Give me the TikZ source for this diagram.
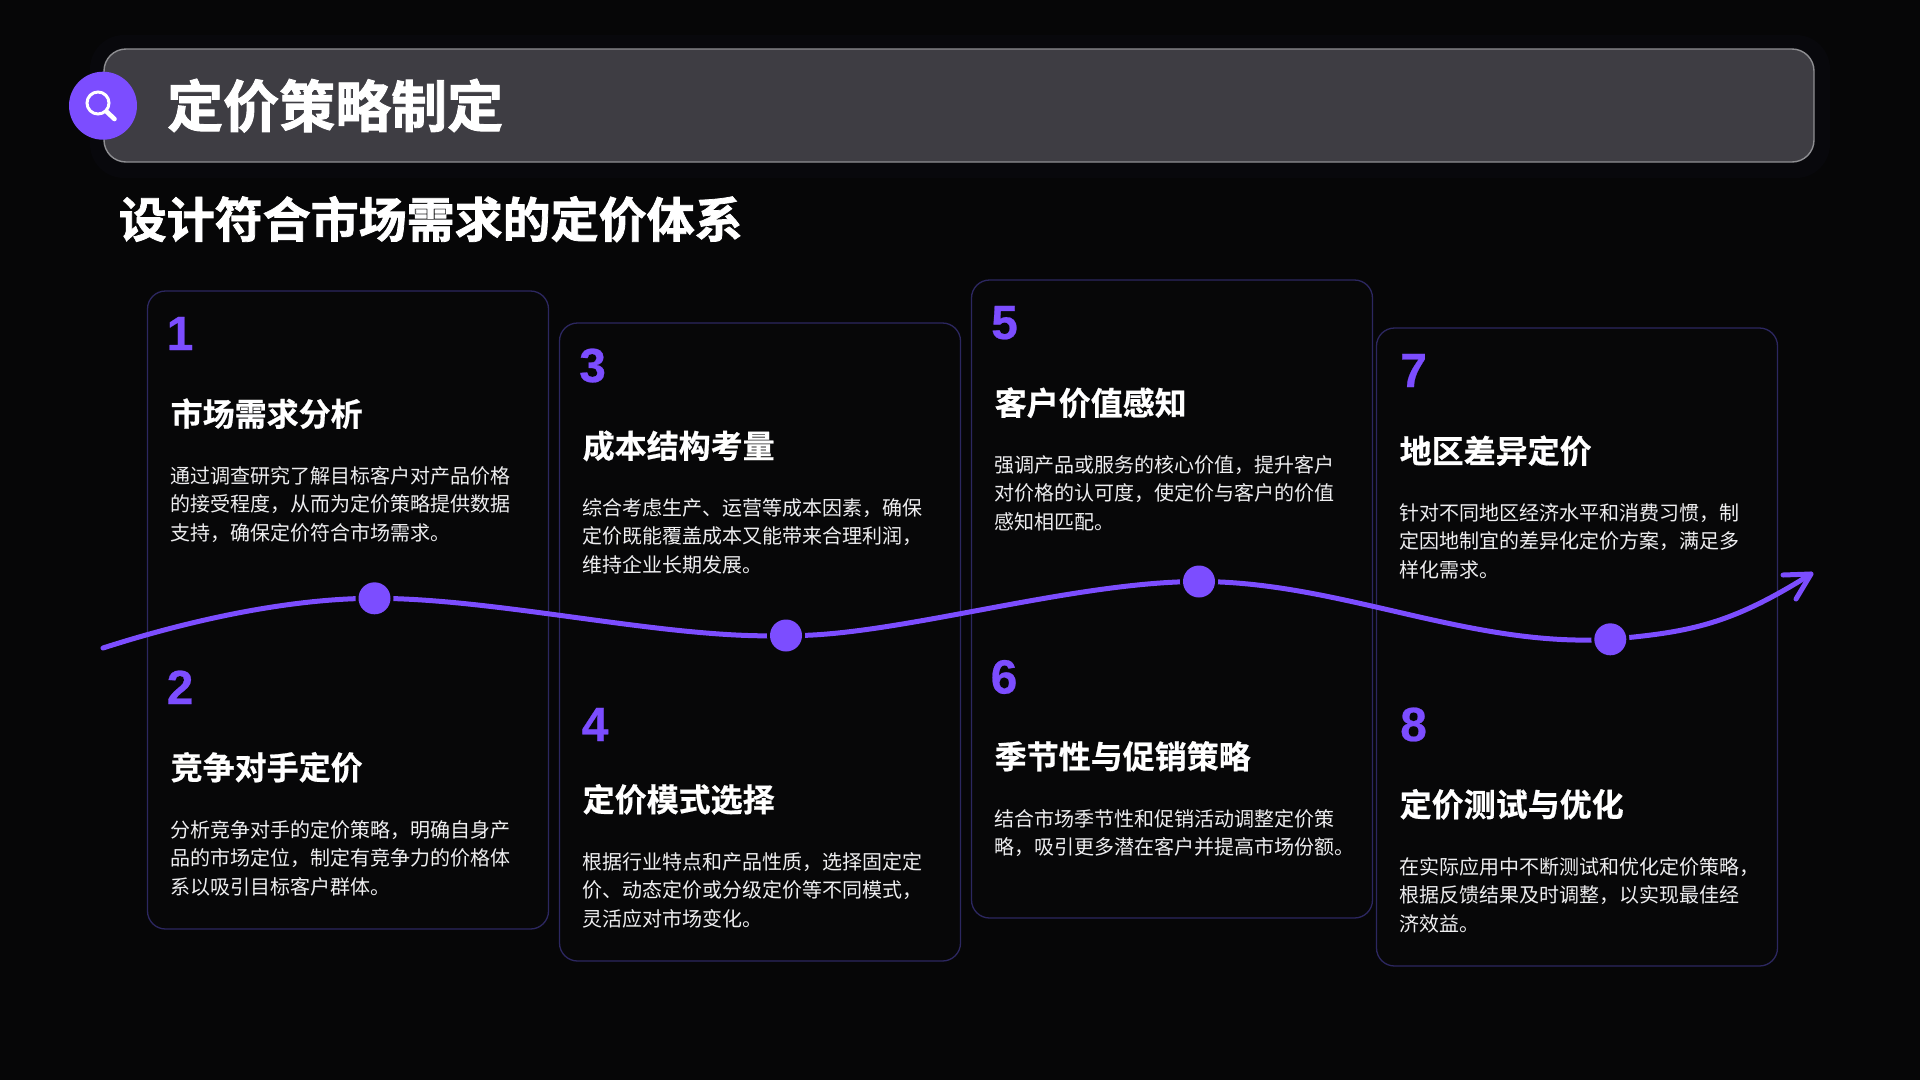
\documentclass[tikz,border=0pt]{standalone}
\usepackage{fontspec}
\setmainfont{Noto Sans CJK SC}[BoldFont={Noto Sans CJK SC Bold}]
\newfontfamily\heavy{Noto Sans CJK SC Bold}[FakeBold=1.6]
\newfontfamily\semi{Noto Sans CJK SC Bold}[FakeBold=0.6]
\newfontfamily\numfont{Liberation Sans Bold}[FakeBold=0.5]
\definecolor{bgc}{HTML}{060607}
\definecolor{cardfill}{HTML}{070708}
\definecolor{glowa}{HTML}{08080C}
\definecolor{purp}{HTML}{7C4DFF}
\definecolor{cardline}{HTML}{2C2760}
\definecolor{headfill}{HTML}{3E3D43}
\definecolor{headline}{HTML}{8E8E92}
\definecolor{bodyc}{HTML}{EEEEF0}
\tikzset{
  x=1pt,y=-1pt,
  cardbox/.style={draw=cardline,line width=1.3pt,rounded corners=18pt,fill=cardfill},
  numtxt/.style={anchor=base west,inner sep=0pt,text=purp,font=\fontsize{48}{48}\selectfont\numfont},
  ttltxt/.style={anchor=base west,inner sep=0pt,text=white,font=\fontsize{32}{32}\selectfont\semi},
  bodytxt/.style={anchor=north west,inner sep=0pt,text=bodyc,align=left,font=\fontsize{20}{28.8}\selectfont},
  dotn/.style={circle,fill=purp,minimum size=32pt,inner sep=0pt},
  halo/.style={circle,fill=cardfill,minimum size=38pt,inner sep=0pt},
  flow/.style={draw=purp,line width=5pt,line cap=round,line join=round},
}
\newcommand{\bstrut}{\rule{0pt}{19pt}}
% id, left, top, title A, body A, title B, body B
\newcommand{\mycard}[7]{%
  \begin{scope}[shift={(#2,#3)}]
    \draw[cardbox] (0,0) rectangle (401,638);
    \node[ttltxt] (t#1a) at (23,135) {#4};
    \node[bodytxt] (b#1a) at (23,172.8) {\bstrut #5};
    \node[ttltxt] (t#1b) at (23,488.5) {#6};
    \node[bodytxt] (b#1b) at (23,526.8) {\bstrut #7};
  \end{scope}}
\begin{document}
\begin{tikzpicture}
\useasboundingbox (0,0) rectangle (1920,1080);
\fill[bgc] (0,0) rectangle (1920,1080);
% header
\fill[glowa,rounded corners=34pt] (90,35) rectangle (1830,178);
\draw[draw=headline,fill=headfill,line width=1.4pt,rounded corners=22pt] (104,49) rectangle (1814,162);
\node[circle,fill=purp,minimum size=68pt,inner sep=0pt] (icon) at (103,105.7) {};
\draw[white,line width=3pt] (98,103) circle (11);
\draw[white,line width=4.6pt,line cap=round] (107,112) -- (114.5,119);
\node[anchor=base west,inner sep=0pt,text=white,font=\fontsize{56}{56}\selectfont\heavy] (title) at (167,127) {定价策略制定};
\node[anchor=base west,inner sep=0pt,text=white,font=\fontsize{48}{48}\selectfont\heavy] (sub) at (118.5,237.5) {设计符合市场需求的定价体系};
% cards
\mycard{1}{147.5}{291}{市场需求分析}{通过调查研究了解目标客户对产品价格\\的接受程度，从而为定价策略提供数据\\支持，确保定价符合市场需求。}{竞争对手定价}{分析竞争对手的定价策略，明确自身产\\品的市场定位，制定有竞争力的价格体\\系以吸引目标客户群体。}
\mycard{3}{559.5}{323}{成本结构考量}{综合考虑生产、运营等成本因素，确保\\定价既能覆盖成本又能带来合理利润，\\维持企业长期发展。}{定价模式选择}{根据行业特点和产品性质，选择固定定\\价、动态定价或分级定价等不同模式，\\灵活应对市场变化。}
\mycard{5}{971.5}{280}{客户价值感知}{强调产品或服务的核心价值，提升客户\\对价格的认可度，使定价与客户的价值\\感知相匹配。}{季节性与促销策略}{结合市场季节性和促销活动调整定价策\\略，吸引更多潜在客户并提高市场份额。}
\mycard{7}{1376.5}{328}{地区差异定价}{针对不同地区经济水平和消费习惯，制\\定因地制宜的差异化定价方案，满足多\\样化需求。}{定价测试与优化}{在实际应用中不断测试和优化定价策略，\\根据反馈结果及时调整，以实现最佳经\\济效益。}
% card numbers
\node[numtxt] (n1) at (166.5,350) {1};
\node[numtxt] (n2) at (166.5,704) {2};
\node[numtxt] (n3) at (579,382) {3};
\node[numtxt] (n4) at (581.5,741) {4};
\node[numtxt] (n5) at (991,339) {5};
\node[numtxt] (n6) at (990.5,693.5) {6};
\node[numtxt] (n7) at (1400,387) {7};
\node[numtxt] (n8) at (1400,741) {8};
% flow line
\coordinate (start) at (103,648);
\coordinate (tip) at (1811,574);
\coordinate (armA) at (1783,575);
\coordinate (armB) at (1796,599);
\coordinate (d1) at (374.5,598.3);
\coordinate (d2) at (786,635.5);
\coordinate (d3) at (1199,581.5);
\coordinate (d4) at (1610.3,639.3);
\draw[flow] (start) .. controls (190,620) and (290,598.3) .. (d1)
  .. controls (500,598.3) and (670,640) .. (d2)
  .. controls (890,638) and (1070,581.5) .. (d3)
  .. controls (1340,581.5) and (1470,648) .. (d4)
  .. controls (1690,632) and (1730,625) .. (tip);
\draw[flow] (armA) -- (tip) -- (armB);
\foreach \d/\n in {d1/a,d2/b,d3/c,d4/e}{
  \node[halo] (h\n) at (\d) {};
  \node[dotn] (p\n) at (\d) {};
}
\end{tikzpicture}
\end{document}
